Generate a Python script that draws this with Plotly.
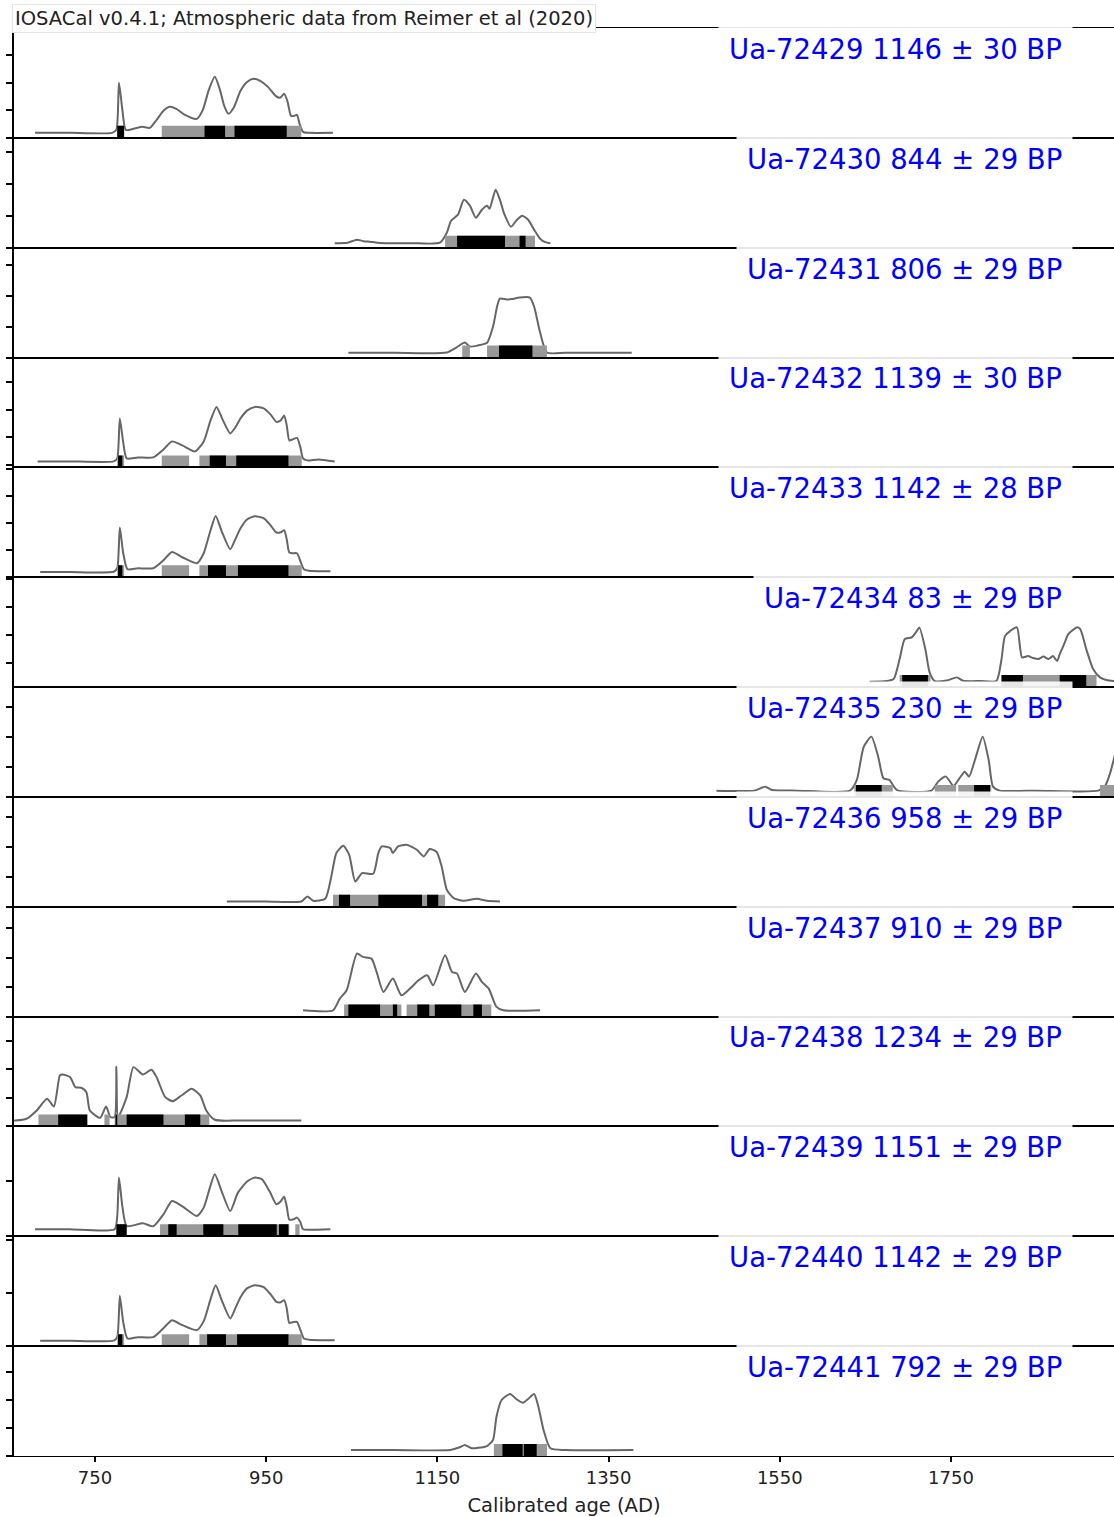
import plotly.graph_objects as go
from plotly.subplots import make_subplots

# Sample identifiers and conventional radiocarbon ages
lab_codes = ["Ua-72429", "Ua-72430", "Ua-72431", "Ua-72432", "Ua-72433", "Ua-72434", "Ua-72435",
             "Ua-72436", "Ua-72437", "Ua-72438", "Ua-72439", "Ua-72440", "Ua-72441"]
bp_ages = [1146, 844, 806, 1139, 1142, 83, 230, 958, 910, 1234, 1151, 1142, 792]
bp_errors = [30, 29, 29, 30, 28, 29, 29, 29, 29, 29, 29, 29, 29]

# Calibrated probability distributions (calendar year AD, relative probability)
years_72429 = [680, 720, 770, 775, 778, 782, 786, 795, 805, 814, 822, 830, 837, 845, 855, 869, 876, 883, 890,
               896, 901, 906, 912, 920, 928, 935, 943, 952, 961, 966, 971, 975, 979, 983, 986, 989, 993, 1000, 1028]
prob_72429 = [5, 5, 5, 8, 55, 28, 8, 9, 11, 10, 18, 27, 31, 29, 23, 19, 28, 48, 61,
              48, 32, 24, 30, 47, 56, 59, 57, 51, 42, 40, 44, 36, 22, 22, 23, 14, 6, 5, 5]

years_72430 = [1030, 1045, 1056, 1064, 1071, 1080, 1095, 1120, 1153, 1161, 1166, 1174, 1181, 1188, 1195, 1202,
               1208, 1211, 1218, 1223, 1228, 1236, 1243, 1249, 1256, 1263, 1270, 1276, 1282]
prob_72430 = [4.5, 5, 8, 6.5, 6, 5, 4.5, 4.5, 5, 15, 27, 33, 48, 42, 30, 38,
              42, 39, 58, 48, 34, 21, 28, 32, 28, 18, 9, 5.5, 4.5]

years_72431 = [1046, 1100, 1161, 1172, 1182, 1188, 1197, 1208, 1215, 1220, 1223, 1231, 1237, 1246, 1258, 1263,
               1270, 1278, 1300, 1377]
prob_72431 = [4.7, 4.7, 5, 10, 15, 11, 12, 14.7, 31, 52, 59, 58, 58.5, 60, 60, 51,
              25, 5, 4.7, 4.7]

years_72432 = [683, 720, 772, 776, 779, 783, 787, 800, 818, 830, 840, 852, 867, 877, 885, 892, 899, 908, 914,
               920, 928, 937, 947, 955, 962, 967, 971, 974, 977, 981, 986, 990, 993, 998, 1011, 1030]
prob_72432 = [6, 6, 6, 9, 49, 25, 9, 10, 10, 18, 26, 22, 16, 26, 47, 60.5, 48, 34, 40,
              49, 57, 60.5, 59, 53, 45.5, 47, 52, 42, 27, 28, 29.5, 20, 9, 7, 8, 6]

years_72433 = [686, 720, 772, 776, 779, 783, 788, 800, 818, 830, 840, 852, 869, 877, 885, 891, 898, 908, 914,
               920, 928, 937, 947, 955, 962, 967, 971, 974, 977, 981, 986, 990, 994, 1000, 1025]
prob_72433 = [5.3, 5.3, 5.5, 9, 49.7, 24, 8, 9, 9, 17, 25.3, 20, 14, 24, 47, 61.3, 46, 28, 38,
              49, 58, 61, 59, 52, 44.7, 45, 47, 38, 24.7, 24, 24, 16, 8, 6.5, 6]

years_72434 = [1655, 1675, 1683, 1690, 1696, 1704, 1710, 1713, 1720, 1725, 1731, 1745, 1757, 1764, 1785, 1803,
               1809, 1813, 1819, 1827, 1833, 1840, 1846, 1852, 1858, 1864, 1869, 1874, 1877, 1883, 1887, 1897,
               1901, 1908, 1916, 1924, 1935, 1945, 1955]
prob_72434 = [5.3, 6, 8, 28, 48, 49.7, 56, 59.7, 38, 14.7, 6, 6.5, 9.7, 6.3, 6, 6,
              28, 51, 56, 59.7, 29.7, 31, 29, 28, 30.5, 28, 31, 26, 33, 44.7, 53, 59.7,
              58, 38, 18, 9.7, 6.5, 6, 6]

years_72435 = [1476, 1520, 1533, 1541, 1570, 1632, 1640, 1648, 1657, 1665, 1671, 1678, 1687, 1727, 1735, 1744,
               1753, 1760, 1766, 1771, 1778, 1787, 1794, 1799, 1807, 1850, 1922, 1930, 1936, 1940, 1946, 1952]
prob_72435 = [6.3, 6.3, 10.3, 7, 6.3, 6.3, 17, 50, 60.3, 40, 18.7, 17, 6.7, 6.3, 15.3, 20.3,
              11, 18.7, 25.3, 20.3, 37, 60.3, 37, 10.3, 6.3, 6.3, 6.3, 11, 24, 37, 55, 60]

years_72436 = [904, 950, 991, 998, 1005, 1019, 1026, 1032, 1040, 1047, 1054, 1062, 1075, 1081, 1085, 1095,
               1098, 1104, 1114, 1126, 1134, 1141, 1149, 1155, 1161, 1169, 1180, 1196, 1208, 1223]
prob_72436 = [5.3, 5.3, 5.3, 10.3, 6, 8, 30, 53.7, 61, 52, 25.3, 33.7, 33, 53.7, 60.3, 58.7,
              53.7, 60.3, 62, 57, 50.3, 57.7, 55, 40.3, 17, 8.7, 6, 8, 6, 5.3]

years_72437 = [993, 1028, 1036, 1044, 1056, 1063, 1073, 1079, 1087, 1098, 1108, 1118, 1128, 1138, 1145, 1159,
               1167, 1173, 1182, 1195, 1202, 1210, 1219, 1227, 1270]
prob_72437 = [6.3, 6.3, 18, 26.3, 63, 59.7, 58, 44.7, 24.7, 38, 21.3, 28, 36.3, 41.3, 31.3, 61.3,
              44.7, 43, 24.7, 43, 34.7, 28, 9.7, 6.3, 6.3]

years_72438 = [640, 657, 670, 682, 694, 702, 709, 712, 721, 727, 734, 740, 744, 756, 763, 768, 773, 775, 777,
               787, 795, 806, 816, 822, 832, 841, 851, 863, 873, 880, 890, 920, 991]
prob_72438 = [6, 6, 7.7, 16, 27.7, 20, 51, 52, 49.3, 39.3, 38.7, 34.3, 16, 8.7, 20, 9.3, 9.5, 60, 9.5,
              29.3, 59.3, 52, 56.7, 49.3, 29.3, 25.3, 31, 37.7, 31, 16, 6.7, 6, 6]

years_72439 = [680, 720, 773, 776, 778, 782, 787, 806, 818, 830, 840, 852, 869, 877, 884, 890, 898, 908, 917,
               928, 937, 945, 954, 962, 967, 971, 974, 977, 982, 986, 990, 993, 1000, 1025]
prob_72439 = [7, 7, 7, 20, 58.7, 30, 10.3, 13, 10, 22, 35.3, 30, 20.3, 28.7, 48, 62, 45, 25.3, 43.7,
              55, 58.7, 57, 45, 32, 35, 39.7, 30, 16.7, 17, 18.7, 14, 7, 6.5, 7]

years_72440 = [686, 720, 772, 776, 779, 783, 788, 800, 818, 830, 840, 852, 869, 877, 885, 891, 898, 908, 914,
               920, 928, 937, 947, 955, 962, 967, 971, 974, 977, 981, 986, 990, 994, 1000, 1030]
prob_72440 = [5.3, 5.3, 5.5, 9, 50.3, 24, 7.7, 9, 9, 18, 26, 21, 16, 25, 47, 61, 46, 27.7, 38,
              49, 58, 61, 59, 52, 44.3, 44, 46, 38, 23.3, 24, 24.3, 16, 7.7, 6.5, 6]

years_72441 = [1049, 1100, 1165, 1176, 1182, 1190, 1200, 1208, 1215, 1219, 1225, 1235, 1242, 1250, 1256, 1263,
               1268, 1274, 1282, 1300, 1379]
prob_72441 = [6, 6, 6, 8.7, 11, 7.7, 8.5, 10, 16, 39.3, 56, 62, 57, 53.3, 57, 62,
              49.3, 26, 7.7, 6, 6]

# Highest-probability ranges (calendar year AD): 95.4% (2 sigma) and 68.2% (1 sigma)
two_sigma = [
    [(776, 784), (828, 991)],
    [(1159, 1264)],
    [(1179, 1188), (1208, 1278)],
    [(776, 784), (828, 860), (872, 991.5)],
    [(776, 784), (828, 860), (872, 991.5)],
    [(1690, 1726), (1809, 1920)],
    [(1637, 1682), (1731, 1756), (1758.5, 1797), (1924, 1960)],
    [(1028, 1159)],
    [(1041, 1108), (1114, 1213)],
    [(684, 741), (761, 767), (773, 883.5)],
    [(775, 787), (826, 977), (984, 989)],
    [(776, 784), (828, 860), (872, 991.5)],
    [(1216, 1278)],
]
one_sigma = [
    [(776, 784), (878, 902), (913, 974)],
    [(1173, 1229), (1246, 1253)],
    [(1222, 1261)],
    [(777, 782), (884, 903), (915, 976)],
    [(777, 782), (882, 903), (917, 976)],
    [(1693, 1723), (1809, 1834), (1877, 1908)],
    [(1639, 1669), (1777, 1795.6)],
    [(1035, 1048), (1081, 1132), (1138, 1151)],
    [(1046, 1083), (1098, 1103), (1126.5, 1140.5), (1147, 1178), (1192, 1202)],
    [(707, 741), (774, 776), (787, 830), (855, 873)],
    [(775, 787), (835.6, 845.4), (876.5, 900), (917.4, 962.3), (965, 976)],
    [(777, 782), (881, 903), (916, 976)],
    [(1226, 1249.6), (1251, 1266)],
]

curve_years = [years_72429, years_72430, years_72431, years_72432, years_72433, years_72434, years_72435,
               years_72436, years_72437, years_72438, years_72439, years_72440, years_72441]
curve_probs = [prob_72429, prob_72430, prob_72431, prob_72432, prob_72433, prob_72434, prob_72435,
               prob_72436, prob_72437, prob_72438, prob_72439, prob_72440, prob_72441]

# y tick spacing for each panel (relative probability units)
tick_steps = [27.5, 32, 31, 27.5, 27, 28, 30, 30, 29.5, 28.5, 55, 53, 28]
tick_starts = [0, 0, 0, 2.5, 0, -4, 0, 0, 0, 0, 0, 0, 0]
x_ticks = [750, 950, 1150, 1350, 1550, 1750]

N = len(lab_codes)
Y_TOP = 109.85
BAR_H = 12
X_RANGE = [655.4, 1940.4]
FONT = "DejaVu Sans"

fig = make_subplots(rows=N, cols=1, shared_xaxes=True, vertical_spacing=0)

for i in range(N):
    row = i + 1
    fig.add_trace(go.Scatter(
        x=curve_years[i], y=curve_probs[i], mode="lines",
        line=dict(color="#666666", width=2, shape="spline", smoothing=0.6),
        hoverinfo="skip", showlegend=False), row=row, col=1)
    for ranges, color in ((two_sigma[i], "#999999"), (one_sigma[i], "#000000")):
        xs, ys = [], []
        for a, b in ranges:
            xs += [a, a, b, b, a, None]
            ys += [0, BAR_H, BAR_H, 0, 0, None]
        fig.add_trace(go.Scatter(
            x=xs, y=ys, mode="lines", fill="toself", fillcolor=color,
            line=dict(width=0, color=color), hoverinfo="skip", showlegend=False),
            row=row, col=1)

    fig.update_yaxes(range=[0, Y_TOP], tick0=tick_starts[i], dtick=tick_steps[i],
                     ticks="outside", ticklen=6, tickwidth=1.5, tickcolor="black",
                     showticklabels=False, showgrid=False, zeroline=False,
                     showline=True, linecolor="black", linewidth=1.5, row=row, col=1)
    fig.update_xaxes(range=X_RANGE, showgrid=False, zeroline=False, showline=True, mirror=True,
                     linecolor="black", linewidth=1.2, ticks="", row=row, col=1)

    yref = "y domain" if row == 1 else f"y{row} domain"
    fig.add_annotation(
        text=f"{lab_codes[i]} {bp_ages[i]} ± {bp_errors[i]} BP",
        xref="paper", x=(1073 - 14) / 1100, xanchor="right",
        yref=yref, y=0.81, yanchor="middle", showarrow=False,
        font=dict(family=FONT, size=27.5, color="#0000ff"),
        bgcolor="rgba(255,255,255,0.9)", borderpad=10)

fig.update_xaxes(ticks="outside", tickvals=x_ticks, ticktext=[str(v) for v in x_ticks],
                 ticklen=5, tickwidth=1.5, tickcolor="black", showticklabels=True,
                 tickfont=dict(family=FONT, size=18, color="#222222"),
                 title=dict(text="Calibrated age (AD)", font=dict(family=FONT, size=19.5, color="#222222"),
                            standoff=11),
                 automargin=False, row=N, col=1)

fig.add_annotation(
    text="IOSACal v0.4.1; Atmospheric data from Reimer et al (2020)",
    xref="paper", x=-2 / 1100, xanchor="left", yref="paper", y=1 + 10 / 1428, yanchor="middle",
    showarrow=False, font=dict(family=FONT, size=19.5, color="#222222"),
    bgcolor="white", bordercolor="#e4e4e4", borderwidth=1, borderpad=2)

fig.update_layout(width=1114, height=1517, margin=dict(l=14, r=0, t=28, b=61),
                  paper_bgcolor="white", plot_bgcolor="white")

fig.write_html("out.html")
